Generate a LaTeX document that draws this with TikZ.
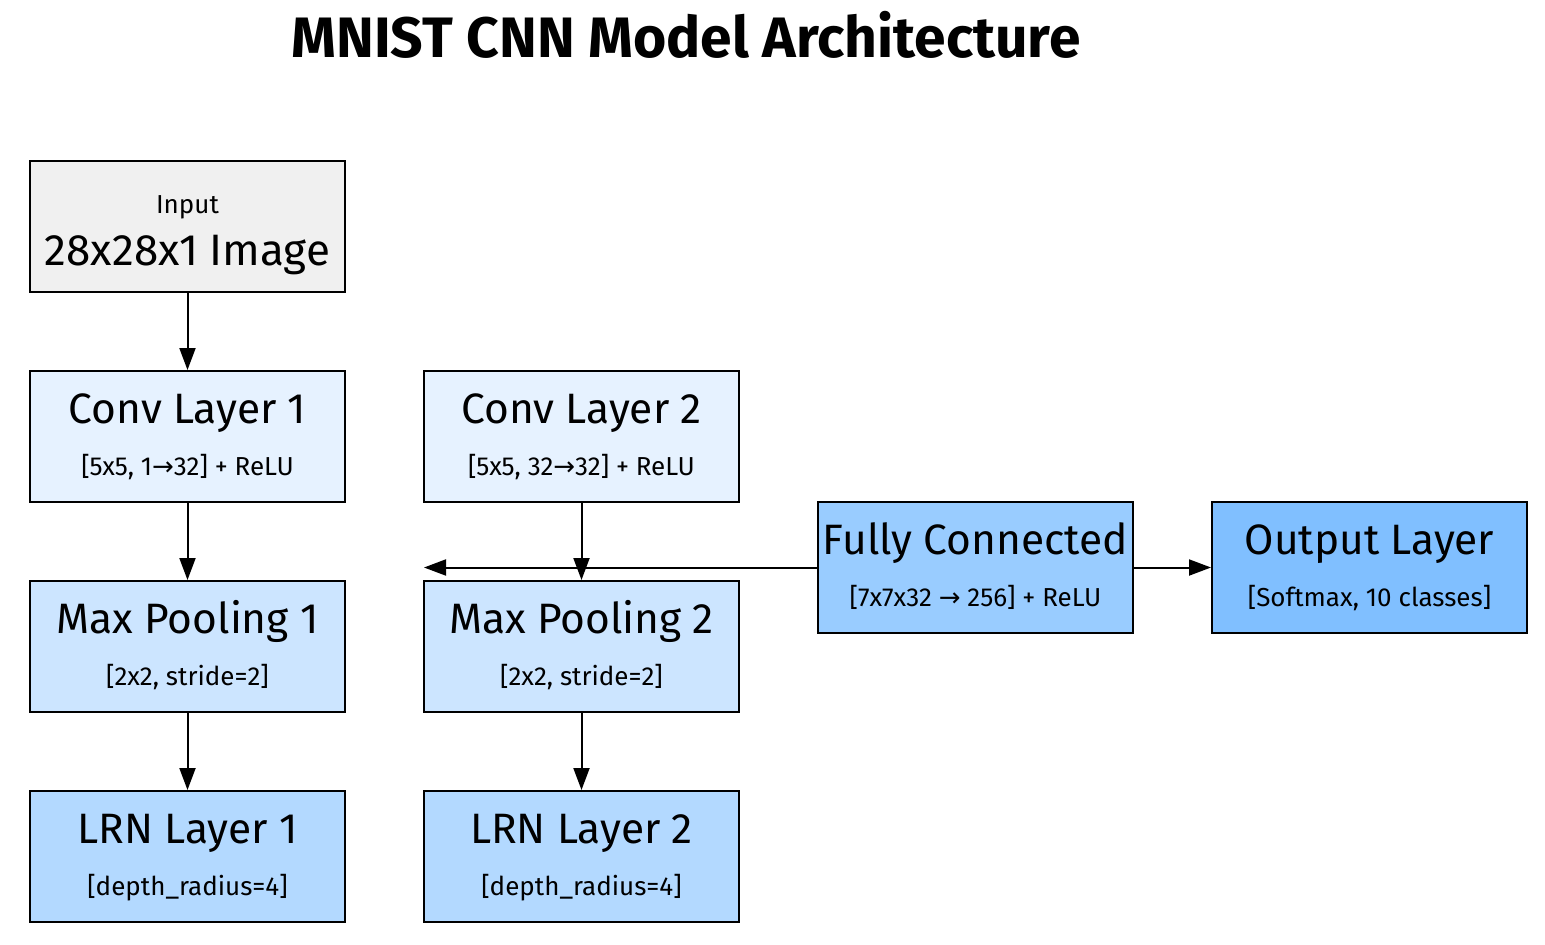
\documentclass[tikz,border=0pt]{standalone}
\usepackage{fontspec}
\setmainfont{Fira Sans}
\newfontfamily\arrfont{DejaVu Sans}
\usetikzlibrary{arrows.meta}
\definecolor{cinput}{HTML}{F0F0F0}
\definecolor{cconv}{HTML}{E6F2FF}
\definecolor{cpool}{HTML}{CCE5FF}
\definecolor{clrn}{HTML}{B3D9FF}
\definecolor{cfc}{HTML}{99CCFF}
\definecolor{cout}{HTML}{80BFFF}
\newcommand{\ar}{{\arrfont\char"2192}}
\tikzset{
  layerbox/.style={draw=black, line width=2pt, minimum width=315pt, minimum height=131pt, inner sep=0pt},
  bigtxt/.style={anchor=base, inner sep=0pt, font=\fontsize{42.5}{44}\selectfont},
  smalltxt/.style={anchor=base, inner sep=0pt, font=\fontsize{26}{28}\selectfont},
  conn/.style={line width=2pt, -{Triangle[length=22pt,width=16pt]}},
}
\begin{document}
\begin{tikzpicture}[x=1pt,y=-1pt]
\useasboundingbox (0,0) rectangle (1545,945);
\node[anchor=base, font=\fontsize{57}{60}\selectfont\bfseries] (title) at (686,57) {MNIST CNN Model Architecture};
% boxes
\node[layerbox, fill=cinput] (input) at (187.5,226.5) {};
\node[layerbox, fill=cconv] (conv1) at (187.5,436.5) {};
\node[layerbox, fill=cpool] (pool1) at (187.5,646.5) {};
\node[layerbox, fill=clrn] (lrn1) at (187.5,856.5) {};
\node[layerbox, fill=cconv] (conv2) at (581.5,436.5) {};
\node[layerbox, fill=cpool] (pool2) at (581.5,646.5) {};
\node[layerbox, fill=clrn] (lrn2) at (581.5,856.5) {};
\node[layerbox, fill=cfc] (fc) at (975.5,567.5) {};
\node[layerbox, fill=cout] (out) at (1369.5,567.5) {};
% texts
\node[smalltxt] (tinput1) at (187.5,213) {Input};
\node[bigtxt, font=\fontsize{44}{46}\selectfont] (tinput2) at (187.5,265) {28x28x1 Image};
\node[bigtxt] (tconv1a) at (187.5,423) {Conv Layer 1};
\node[smalltxt] (tconv1b) at (187.5,475) {[5x5, 1\ar32] + ReLU};
\node[bigtxt] (tpool1a) at (187.5,633) {Max Pooling 1};
\node[smalltxt] (tpool1b) at (187.5,685) {[2x2, stride=2]};
\node[bigtxt] (tlrn1a) at (187.5,843) {LRN Layer 1};
\node[smalltxt] (tlrn1b) at (187.5,895) {[depth\_radius=4]};
\node[bigtxt] (tconv2a) at (581.5,423) {Conv Layer 2};
\node[smalltxt] (tconv2b) at (581.5,475) {[5x5, 32\ar32] + ReLU};
\node[bigtxt] (tpool2a) at (581.5,633) {Max Pooling 2};
\node[smalltxt] (tpool2b) at (581.5,685) {[2x2, stride=2]};
\node[bigtxt] (tlrn2a) at (581.5,843) {LRN Layer 2};
\node[smalltxt] (tlrn2b) at (581.5,895) {[depth\_radius=4]};
\node[bigtxt] (tfca) at (975.5,554) {Fully Connected};
\node[smalltxt] (tfcb) at (975.5,606) {[7x7x32 \ar{} 256] + ReLU};
\node[bigtxt] (touta) at (1369.5,554) {Output Layer};
\node[smalltxt] (toutb) at (1369.5,606) {[Softmax, 10 classes]};
% connectors
\coordinate (fcend) at (424,567.5);
\draw[conn] (input) -- (conv1);
\draw[conn] (conv1) -- (pool1);
\draw[conn] (pool1) -- (lrn1);
\draw[conn] (conv2) -- (pool2);
\draw[conn] (pool2) -- (lrn2);
\draw[conn] (fc) -- (out);
\draw[conn] (fc) -- (fcend);
\end{tikzpicture}
\end{document}
